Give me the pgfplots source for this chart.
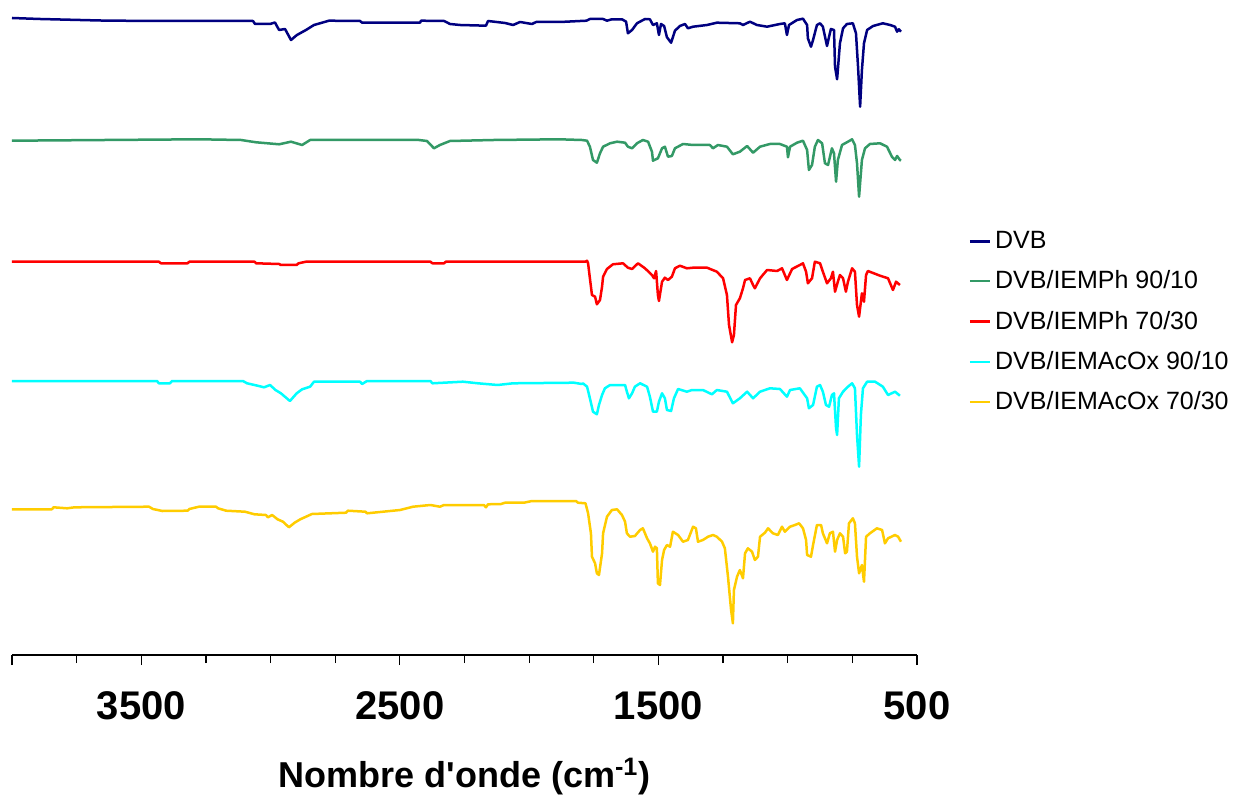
\documentclass[border=0pt]{standalone}
\usepackage{pgfplots}
\pgfplotsset{compat=1.18}
\usepackage{fontspec}
\setmainfont{Liberation Sans}
\definecolor{cDVB}{HTML}{000080}
\definecolor{cPh90}{HTML}{339966}
\definecolor{cPh70}{HTML}{FF0000}
\definecolor{cAc90}{HTML}{00FFFF}
\definecolor{cAc70}{HTML}{FFCC00}
\begin{document}
\begin{tikzpicture}
\begin{axis}[
  scale only axis,
  width=452.5pt, height=322.5pt,
  x dir=reverse,
  xmin=500, xmax=4000, ymin=0, ymax=645,
  axis x line=bottom, axis y line=none,
  x axis line style={-, line width=0.8pt},
  xtick={500,1500,2500,3500,4000},
  xticklabels={500,1500,2500,3500,{}},
  minor xtick={750,1000,1250,1750,2000,2250,2750,3000,3250,3750},
  tick align=outside,
  major tick length=5pt, minor tick length=4pt,
  every tick/.style={black, line width=0.6pt},
  xticklabel style={font=\bfseries\fontsize{20}{20}\selectfont, yshift=-9.5pt},
  xlabel={Nombre d\textquotesingle onde (cm\textsuperscript{-1})},
  xlabel style={font=\bfseries\fontsize{18}{18}\selectfont, at={(axis description cs:0.5,0)}, anchor=north, yshift=-48pt},
  legend style={at={(1.05,0.67)}, anchor=north west, draw=none, fill=none, font=\fontsize{12.5}{12.5}\selectfont, row sep=5.6pt},
  legend cell align=left,
  legend image code/.code={\draw[#1] (0pt,0pt) -- (10pt,0pt);},
  every axis plot/.append style={line width=1.25pt, line join=round},
]
\addplot[cDVB] coordinates {
(4000,637) (3892,636) (3660,634.5) (3466,634) (3068,634) (3060,631) (3002,631) (2983,632.5) (2967,625) (2944,626) (2921,615) (2898,620) (2863,625) (2832,630) (2774,634.3) (2654,634) (2646,632.3) (2422,632.3) (2418,634.3) (2329,634) (2306,631) (2267,630) (2167,629.3) (2159,634) (2093,632) (2062,630) (2035,633) (1989,631) (1973,633) (1881,633) (1778,634.3) (1765,636) (1714,636) (1699,634.3) (1680,635.7) (1641,635.7) (1625,633.3) (1618,621.7) (1602,625) (1583,631.7) (1552,636) (1533,635.7) (1521,630) (1506,631.7) (1498,620) (1490,631) (1478,629) (1467,617.7) (1451,612.3) (1436,624.3) (1417,629) (1397,631) (1386,626.7) (1366,628.3) (1312,630) (1274,632.3) (1185,631.7) (1173,630) (1146,633.3) (1119,630) (1080,628.3) (1030,631) (1011,631.7) (1003,620) (995,630) (964,635) (941,636.3) (925,630) (922,616.7) (910,608.3) (902,615) (887,630) (875,631.7) (864,628.3) (848,609) (840,618.3) (833,626) (821,625) (817,588.3) (809,575.7) (798,611.7) (786,626.7) (771,631) (748,631.7) (736,621.7) (728,588.3) (720,548.3) (713,585) (705,611.7) (693,625) (670,629) (632,631.7) (604,630) (585,628.3) (577,623.3) (570,625.7) (562,623.3)
};
\addlegendentry{DVB}
\addplot[cPh90] coordinates {
(4000,514.3) (3277,515.7) (3114,515) (3056,512.7) (2967,510.7) (2921,513.3) (2878,510) (2847,515) (2685,515) (2426,515) (2395,514) (2368,506.7) (2345,510) (2306,514) (2136,515) (1884,515.7) (1796,515) (1776,514.3) (1765,508.3) (1753,495) (1738,492.3) (1726,501.7) (1714,508.3) (1687,511.7) (1660,513.3) (1629,512.3) (1618,508.3) (1602,506.7) (1583,511.7) (1560,515) (1540,513.3) (1525,503.3) (1521,494.3) (1502,496.7) (1486,506.7) (1475,508.3) (1463,498.3) (1448,499) (1436,506.7) (1405,511) (1366,510) (1301,510) (1289,506.7) (1270,510) (1235,508.3) (1212,500.7) (1185,503.3) (1157,509) (1134,502.3) (1107,508.3) (1069,511) (1030,511) (1003,508.3) (999,497.7) (991,508.3) (964,512.3) (941,514.3) (925,505) (918,485) (906,490) (895,508.3) (883,515) (867,511.7) (856,491.7) (844,490) (829,506.7) (821,501.7) (813,473.3) (806,495) (790,510) (767,513.3) (751,515.7) (740,510) (732,491.7) (724,458.3) (713,495) (701,506.7) (682,511) (643,511.7) (616,508.3) (597,498.3) (585,495) (577,499) (566,495) (562,494.3)
};
\addlegendentry{DVB/IEMPh 90/10}
\addplot[cPh70] coordinates {
(4000,393.3) (3432,393.3) (3424,391.7) (3321,391.7) (3314,393.3) (3062,393.3) (3056,391.7) (2967,391) (2960,390) (2899,390) (2892,391.7) (2863,393.3) (2382,393.3) (2374,391.7) (2329,391.7) (2322,393.3) (1782,393.3) (1776,394.3) (1772,391.7) (1765,376.7) (1757,360) (1745,358.3) (1738,350.7) (1726,355) (1718,368.3) (1714,378.3) (1699,386) (1676,390.7) (1637,391.7) (1618,387.3) (1602,386) (1579,391.7) (1552,386.7) (1525,380) (1517,376.7) (1509,384) (1502,360) (1498,354) (1486,373.3) (1475,377.3) (1463,375) (1448,378.3) (1436,386.7) (1417,389.3) (1390,386.7) (1366,387.3) (1312,387.3) (1274,383.3) (1250,376.7) (1235,360) (1227,330) (1215,312.7) (1208,320) (1200,350) (1185,356.7) (1173,366.7) (1165,375) (1146,376.7) (1134,370) (1127,366.7) (1107,376.7) (1080,385) (1041,384) (1022,386.7) (1003,375) (983,386) (953,390) (941,391.7) (929,383.3) (922,371.7) (906,376.7) (895,393.3) (875,391.7) (864,383.3) (848,371.7) (833,376.7) (825,383.3) (817,363.3) (806,373.3) (798,380) (786,376.7) (775,363.3) (767,373.3) (751,386.7) (740,383.3) (732,350) (724,338.3) (713,361.7) (705,353.3) (697,380) (690,384) (643,379.3) (612,376.7) (593,365) (581,373.3) (566,370)
};
\addlegendentry{DVB/IEMPh 70/30}
\addplot[cAc90] coordinates {
(4000,274) (3439,274) (3432,271.7) (3389,271.7) (3381,274) (3107,274) (3091,271.7) (3062,270) (3025,267.7) (3002,270) (2981,265) (2960,261.7) (2925,254) (2899,261.7) (2878,265.7) (2847,268.3) (2832,273.3) (2654,273.3) (2646,271) (2627,274) (2382,274) (2374,271.7) (2256,273.3) (2198,271.7) (2122,270) (2062,271.7) (1827,272.3) (1796,271) (1792,271.7) (1776,268.3) (1765,256.7) (1753,243.3) (1738,240.7) (1730,250) (1718,260) (1707,266.7) (1687,270) (1629,270) (1622,263.3) (1614,256.7) (1602,261.7) (1591,268.3) (1571,271.7) (1544,268.3) (1533,258.3) (1521,243.3) (1506,243.3) (1498,253.3) (1486,261.7) (1475,256.7) (1467,245) (1451,244) (1440,256.7) (1424,266) (1390,263.3) (1370,265) (1328,265) (1293,260.7) (1274,265) (1235,263.3) (1212,251.7) (1185,256.7) (1157,263.3) (1134,256.7) (1107,263.3) (1069,266.7) (1030,266) (1003,258.3) (991,265) (953,266.7) (925,256.7) (918,246.7) (902,250) (887,268.3) (875,270) (864,263.3) (852,250) (840,248.3) (829,260) (821,261.7) (813,226.7) (809,220) (802,256.7) (786,263.3) (767,268.3) (751,271.7) (740,266.7) (732,220) (724,188.3) (717,240) (709,266.7) (693,273.3) (662,273.3) (632,268.3) (612,260) (585,263.3) (566,259.3)
};
\addlegendentry{DVB/IEMAcOx 90/10}
\addplot[cAc70] coordinates {
(4000,145.7) (3846,145.7) (3839,147.7) (3787,146.7) (3758,147.7) (3470,148.3) (3455,146) (3418,144) (3321,144.3) (3314,146) (3277,148.3) (3211,148.3) (3203,146.7) (3172,144.3) (3099,143.3) (3062,140.7) (3018,140) (3010,137.7) (2994,140) (2973,135.7) (2952,133.3) (2929,127.7) (2907,132.3) (2885,135.7) (2863,138.3) (2840,141) (2708,142.3) (2701,144.3) (2633,143.3) (2627,141.7) (2588,142.7) (2499,145) (2449,148.3) (2382,150) (2345,148.3) (2329,150) (2175,150) (2167,147.7) (2159,150.7) (2109,151) (2093,152.3) (2020,152.3) (1989,154) (1819,154) (1811,152.3) (1782,151.7) (1772,141.7) (1761,121.7) (1757,98.3) (1745,91.7) (1738,81.7) (1730,80) (1718,101.7) (1714,121.7) (1699,138.3) (1680,145) (1660,145.7) (1641,140) (1629,133.3) (1622,121.7) (1610,118.3) (1591,119) (1571,125) (1560,126.7) (1544,116.7) (1533,111.7) (1521,103.3) (1513,108.3) (1506,106.7) (1502,71.7) (1494,70) (1486,95) (1478,105) (1467,110) (1455,108.3) (1444,123.3) (1424,120) (1405,113.3) (1386,115) (1366,128.3) (1355,126.7) (1347,113.3) (1328,115) (1308,118.3) (1289,120) (1274,118.3) (1254,113.3) (1243,106.7) (1231,78.3) (1219,45) (1212,31.7) (1208,65) (1196,78.3) (1185,85) (1173,76.7) (1165,101.7) (1154,106.7) (1138,103.3) (1127,95) (1115,98.3) (1107,118.3) (1088,122.3) (1076,126.7) (1057,121.7) (1038,120) (1022,128.3) (1011,123.3) (991,128.3) (972,130) (956,131.7) (941,126.7) (929,115) (925,100) (910,98.3) (902,110) (887,130) (871,130) (864,121.7) (848,111.7) (837,121.7) (825,123.3) (817,103.3) (809,115) (798,121.7) (786,118.3) (778,101.7) (771,103.3) (763,131.7) (748,136.7) (740,131.7) (732,98.3) (724,81.7) (713,90) (705,73.3) (697,118.3) (682,121.7) (655,126.7) (635,125) (624,111.7) (612,116.7) (585,120) (573,118.3) (562,113.3)
};
\addlegendentry{DVB/IEMAcOx 70/30}
\end{axis}
\path ([xshift=-6pt,yshift=-73pt]current axis.south west) rectangle ([xshift=163pt,yshift=5pt]current axis.north east);
\end{tikzpicture}
\end{document}
